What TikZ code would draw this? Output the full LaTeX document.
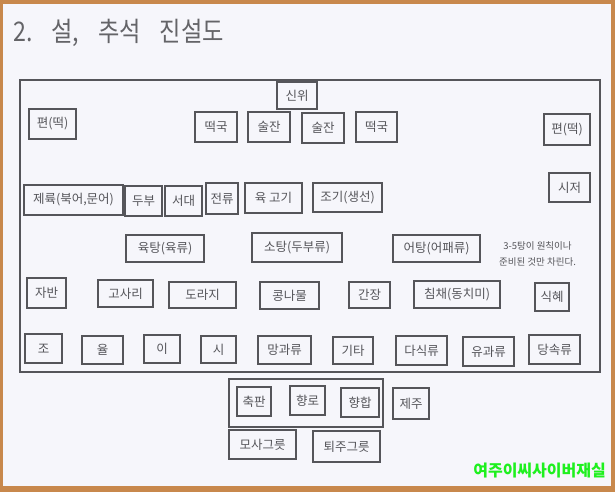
\documentclass[tikz,border=0pt]{standalone}
\usepackage{fontspec}
\usepackage{graphicx}
\setmainfont{Noto Sans CJK KR}
\definecolor{framebrown}{RGB}{200,136,76}
\definecolor{paper}{RGB}{246,246,251}
\definecolor{ink}{RGB}{85,85,90}
\definecolor{titleink}{RGB}{100,100,104}
\definecolor{markgreen}{RGB}{30,240,30}
\tikzset{
  dish/.style={draw=ink,line width=2.4pt,text=ink,inner sep=1pt,minimum height=29pt,font=\fontsize{12.5}{14}\selectfont},
  board/.style={draw=ink,line width=2pt}
}
\begin{document}
\begin{tikzpicture}[x=1pt,y=-1pt]
	\useasboundingbox (0,0) rectangle (615,492);
	\fill[framebrown] (0,0) rectangle (615,492);
	\fill[paper] (3,4) rectangle (611,486);
	\node[anchor=base west,text=titleink,inner sep=0pt,font=\fontsize{27}{30}\selectfont] (title) at (13,42)
		{\scalebox{0.86}[1]{2.\hspace{22pt}설,\hspace{22pt}추석\hspace{22pt}진설도}};
	\draw[board] (20,80) rectangle (600,372);
	% first row
	\node[dish,minimum width=40pt,minimum height=27pt] (sinwi) at (297,95.5) {신위};
	\node[dish,minimum width=47pt,minimum height=30pt] (pyeonL) at (52.5,124) {편(떡)};
	\node[dish,minimum width=42pt,minimum height=30pt] (tteokA) at (216,127) {떡국};
	\node[dish,minimum width=42pt,minimum height=30pt] (suljanA) at (269,127) {술잔};
	\node[dish,minimum width=42pt,minimum height=30pt] (suljanB) at (323,128) {술잔};
	\node[dish,minimum width=41pt,minimum height=30pt] (tteokB) at (376.5,127) {떡국};
	\node[dish,minimum width=46pt,minimum height=31pt] (pyeonR) at (567,129.5) {편(떡)};
	% second row
	\node[dish,minimum width=99pt,minimum height=30pt] (jeryuk) at (73.5,200) {제륙(북어,문어)};
	\node[dish,minimum width=37pt,minimum height=30pt] (dubu) at (143.5,201) {두부};
	\node[dish,minimum width=37pt,minimum height=30pt] (seodae) at (183.5,201) {서대};
	\node[dish,minimum width=32pt,minimum height=31pt] (jeon) at (222,198.5) {전류};
	\node[dish,minimum width=57pt,minimum height=30pt] (gogi) at (273.5,198) {육 고기};
	\node[dish,minimum width=69pt] (jogi) at (347.5,197.5) {조기(생선)};
	\node[dish,minimum width=41pt] (sijeo) at (569.5,187.5) {시저};
	% third row
	\node[dish,minimum width=78pt,minimum height=27pt] (yuktang) at (165,248.5) {육탕(육류)};
	\node[dish,minimum width=90pt] (sotang) at (297,247.5) {소탕(두부류)};
	\node[dish,minimum width=87pt,minimum height=27pt] (eotang) at (436.5,248.5) {어탕(어패류)};
	\node[text=ink,align=center,font=\fontsize{9.5}{16.5}\selectfont] (note) at (537.5,254) {3-5탕이 원칙이나\\준비된 것만 차린다.};
	% fourth row
	\node[dish,minimum width=39pt,minimum height=30pt] (jaban) at (46.5,293) {자반};
	\node[dish,minimum width=55pt,minimum height=27pt] (gosari) at (125.5,293.5) {고사리};
	\node[dish,minimum width=67pt,minimum height=26pt] (doraji) at (202.5,295) {도라지};
	\node[dish,minimum width=59pt,minimum height=27pt] (kongnamul) at (289.5,295.5) {콩나물};
	\node[dish,minimum width=41pt,minimum height=26pt] (ganjang) at (369.5,295) {간장};
	\node[dish,minimum width=86pt,minimum height=27pt] (chimchae) at (457,294.5) {침채(동치미)};
	\node[dish,minimum width=34pt,minimum height=28pt] (sikhye) at (552,297) {식혜};
	% fifth row
	\node[dish,minimum width=37pt] (jo) at (43.5,348.5) {조};
	\node[dish,minimum width=41pt,minimum height=28pt] (yul) at (102.5,350) {율};
	\node[dish,minimum width=36pt,minimum height=28pt] (i) at (162,349) {이};
	\node[dish,minimum width=35pt,minimum height=27pt] (si) at (218.5,349.5) {시};
	\node[dish,minimum width=53pt,minimum height=28pt] (manggwa) at (284.5,350) {망과류};
	\node[dish,minimum width=40pt,minimum height=27pt] (gita) at (353,350.5) {기타};
	\node[dish,minimum width=51pt] (dasik) at (421.5,350.5) {다식류};
	\node[dish,minimum width=51pt] (yugwa) at (488.5,351.5) {유과류};
	\node[dish,minimum width=51pt] (dangsok) at (554.5,349.5) {당속류};
	% below the table
	\draw[board] (229,379) rectangle (383,427);
	\node[dish,minimum width=34pt] (chukpan) at (254,401.5) {축판};
	\node[dish,minimum width=35pt] (hyangro) at (307.5,400.5) {향로};
	\node[dish,minimum width=38pt] (hyanghap) at (360,402.5) {향합};
	\node[dish,minimum width=36pt,minimum height=31pt] (jeju) at (411,403.5) {제주};
	\node[dish,minimum width=67pt] (mosa) at (262.5,444.5) {모사그릇};
	\node[dish,minimum width=67pt,minimum height=31pt] (toeju) at (346.5,446.5) {퇴주그릇};
	\node[anchor=base east,text=markgreen,font=\bfseries\fontsize{16}{18}\selectfont,inner sep=0pt] (mark) at (606,476) {여주이씨사이버재실};
\end{tikzpicture}
\end{document}
